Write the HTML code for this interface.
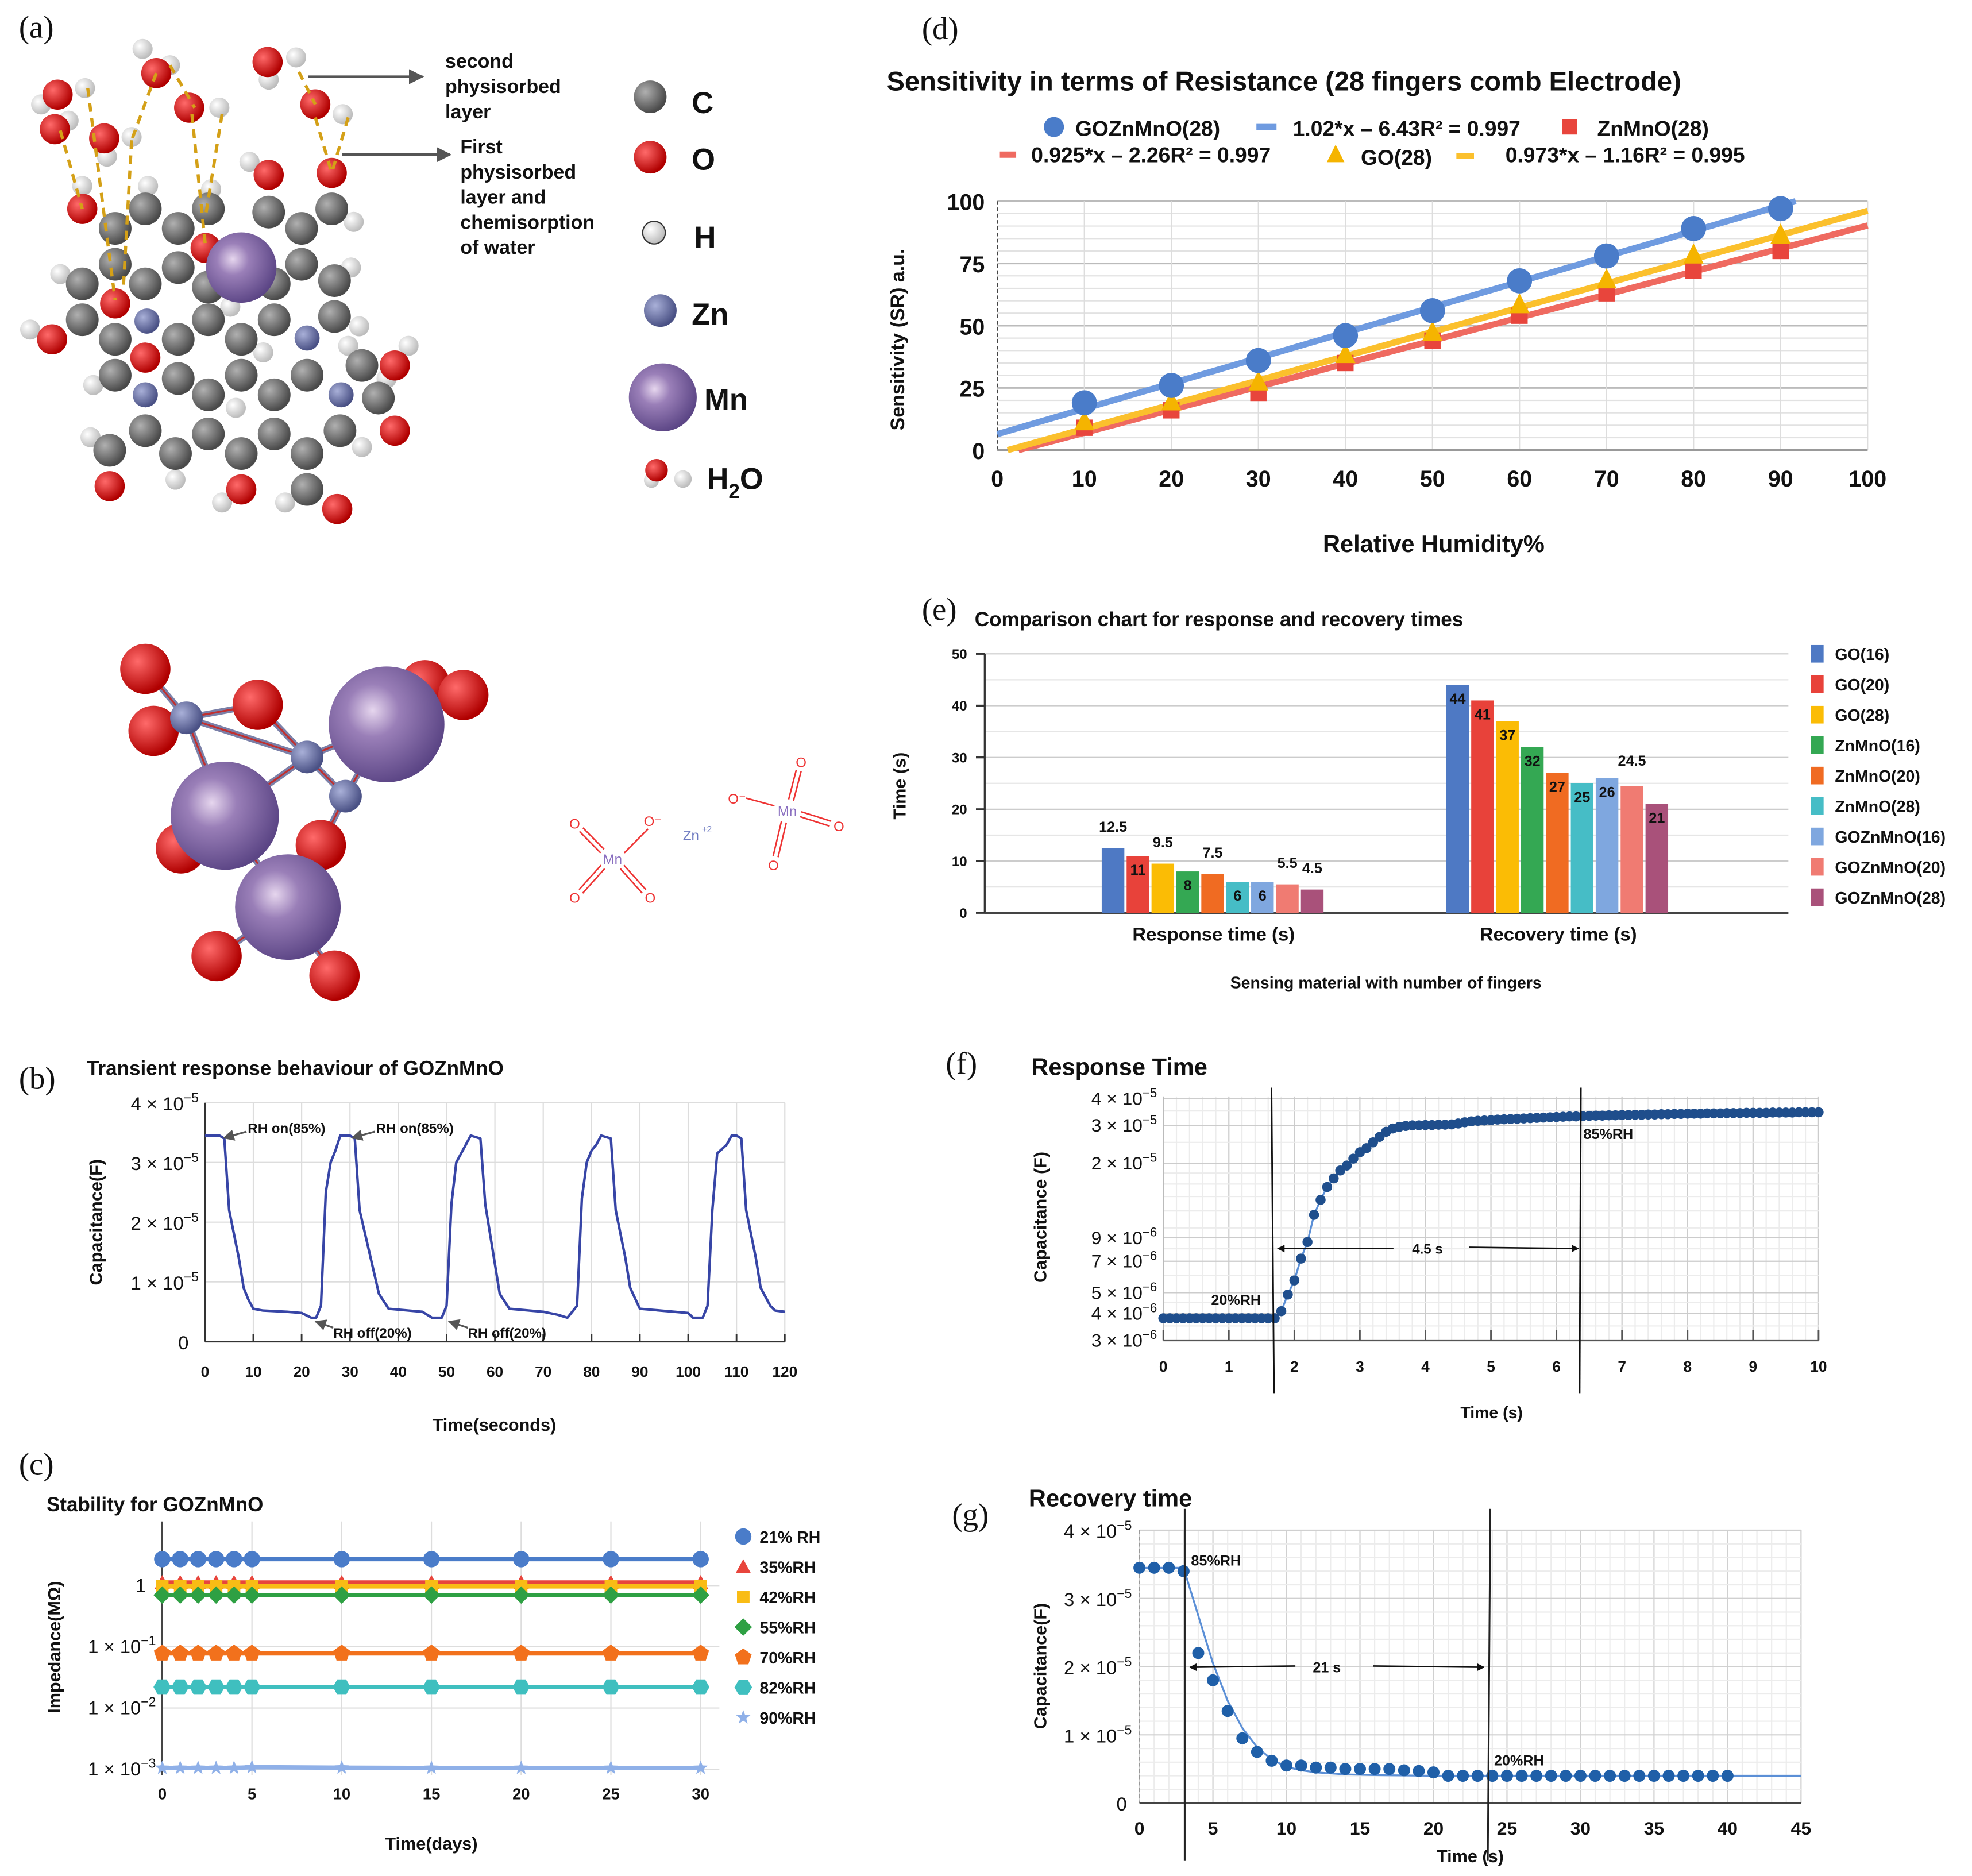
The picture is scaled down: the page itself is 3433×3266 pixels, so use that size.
<!DOCTYPE html>
<html><head><meta charset="utf-8"><style>
html,body{margin:0;padding:0;background:#fff}
svg{display:block}
text{font-family:"Liberation Sans",Arial,sans-serif}
.ser{font-family:"Liberation Serif",serif}
</style></head><body>
<svg id="fig" xmlns="http://www.w3.org/2000/svg" width="3433" height="3266" viewBox="0 0 1568 1492" preserveAspectRatio="none">
<defs>
<radialGradient id="gC" cx="35%" cy="35%" r="65%"><stop offset="0" stop-color="#b0b0b0"/><stop offset="1" stop-color="#4a4a4a"/></radialGradient>
<radialGradient id="gO" cx="35%" cy="35%" r="65%"><stop offset="0" stop-color="#ff6a6a"/><stop offset="1" stop-color="#b00000"/></radialGradient>
<radialGradient id="gH" cx="35%" cy="35%" r="65%"><stop offset="0" stop-color="#ffffff"/><stop offset="1" stop-color="#bdbdbd"/></radialGradient>
<radialGradient id="gZ" cx="35%" cy="35%" r="65%"><stop offset="0" stop-color="#a9b0d8"/><stop offset="1" stop-color="#4a5185"/></radialGradient>
<radialGradient id="gM" cx="38%" cy="38%" r="65%"><stop offset="0" stop-color="#e6d6ee"/><stop offset="0.35" stop-color="#9a7fb8"/><stop offset="1" stop-color="#5b4585"/></radialGradient>
<marker id="arr" viewBox="0 0 10 10" refX="9" refY="5" markerWidth="6" markerHeight="6" orient="auto"><path d="M0,0 L10,5 L0,10 z" fill="#555"/></marker>
<marker id="arrk" viewBox="0 0 10 10" refX="9" refY="5" markerWidth="5" markerHeight="5" orient="auto"><path d="M0,0 L10,5 L0,10 z" fill="#111"/></marker>
</defs>
<rect x="0" y="0" width="1568" height="1492" fill="#fff"/>
<g id="pa"></g>
<g id="pb"></g>
<g id="pc"></g>
<g id="pd"></g>
<g id="pe"></g>
<g id="pf"></g>
<g id="pg"></g>
</svg>
<script>
// ---------- chart data ----------
// (d)
const dX=[10,20,30,40,50,60,70,80,90];
const dGOZn=[19,26,36,46,56,68,78,89,97];
const dZn=[9,16,23,35,44,54,63,72,80];
const dGO=[11,19,27,38,47,58,68,78,86];
const dFitSlope=[1.02,0.925,0.973];
const dFitIntercept=[6.43,-2.26,-1.16];
const dXTicks=[0,10,20,30,40,50,60,70,80,90,100];
const dYTicks=[0,25,50,75,100];
// (e)
const eCats=['Response time (s)','Recovery time (s)'];
const eSeries=['GO(16)','GO(20)','GO(28)','ZnMnO(16)','ZnMnO(20)','ZnMnO(28)','GOZnMnO(16)','GOZnMnO(20)','GOZnMnO(28)'];
const eResponse=[12.5,11,9.5,8,7.5,6,6,5.5,4.5];
const eRecovery=[44,41,37,32,27,25,26,24.5,21];
const eRespLabelAbove=[1,0,1,0,1,0,0,1,1];
const eRecLabelAbove=[0,0,0,0,0,0,0,1,0];
const eYTicks=[0,10,20,30,40,50];
// (b)
const bT=[0,3,4,5,6,7,8,9,10,12,17,20,22,23,24,25,26,27,28,30,31,32,34,36,38,45,47,49,50,51,52,54,55,57,58,59,61,63,70,73,75,76,77,78,79,80,81,82,84,85,87,88,90,100,101,103,104,105,106,108,109,110,111,112,114,115,117,118,120];
const bC=[3.45,3.45,3.4,2.2,1.8,1.4,0.9,0.7,0.55,0.52,0.5,0.48,0.4,0.4,0.6,2.5,3.0,3.2,3.45,3.45,3.4,2.2,1.5,0.8,0.55,0.5,0.4,0.4,0.6,2.3,3.0,3.3,3.45,3.4,2.3,1.8,0.8,0.55,0.5,0.45,0.4,0.5,0.6,2.4,3.0,3.2,3.3,3.45,3.4,2.2,1.4,0.9,0.55,0.48,0.4,0.4,0.6,2.2,3.15,3.3,3.45,3.45,3.4,2.2,1.4,0.9,0.6,0.52,0.5];
const bXTicks=[0,10,20,30,40,50,60,70,80,90,100,110,120];
const bYTicks=[0,1,2,3,4];
// (c)
const cDays=[0,1,2,3,4,5,10,15,20,25,30];
const cLabels=['21% RH','35%RH','42%RH','55%RH','70%RH','82%RH','90%RH'];
const c21=[2.7,2.7,2.7,2.7,2.7,2.7,2.7,2.7,2.7,2.7,2.7];
const c35=[1.12,1.12,1.12,1.12,1.12,1.12,1.12,1.12,1.12,1.12,1.12];
const c42=[0.97,0.97,0.97,0.97,0.97,0.97,0.97,0.97,0.97,0.97,0.97];
const c55=[0.7,0.7,0.7,0.7,0.7,0.7,0.7,0.7,0.7,0.7,0.7];
const c70=[0.078,0.078,0.078,0.078,0.078,0.078,0.078,0.078,0.078,0.078,0.078];
const c82=[0.022,0.022,0.022,0.022,0.022,0.022,0.022,0.022,0.022,0.022,0.022];
const c90=[0.00105,0.00105,0.00105,0.00105,0.00105,0.00108,0.00106,0.00105,0.00105,0.00105,0.00105];
const cXTicks=[0,5,10,15,20,25,30];
// (f) capacitance in 1e-6 F
const fT=[0,0.1,0.2,0.3,0.4,0.5,0.6,0.7,0.8,0.9,1,1.1,1.2,1.3,1.4,1.5,1.6,1.7,1.8,1.9,2,2.1,2.2,2.3,2.4,2.5,2.6,2.7,2.8,2.9,3,3.1,3.2,3.3,3.4,3.5,3.6,3.7,3.8,3.9,4,4.1,4.2,4.3,4.4,4.5,4.6,4.7,4.8,4.9,5,5.1,5.2,5.3,5.4,5.5,5.6,5.7,5.8,5.9,6,6.1,6.2,6.3,6.4,6.5,6.6,6.7,6.8,6.9,7,7.1,7.2,7.3,7.4,7.5,7.6,7.7,7.8,7.9,8,8.1,8.2,8.3,8.4,8.5,8.6,8.7,8.8,8.9,9,9.1,9.2,9.3,9.4,9.5,9.6,9.7,9.8,9.9,10];
const fC=[3.8,3.8,3.8,3.8,3.8,3.8,3.8,3.8,3.8,3.8,3.8,3.8,3.8,3.8,3.8,3.8,3.8,3.8,4.1,4.9,5.7,7.2,8.6,11.5,13.5,15.5,17,18.5,19.5,21,22.5,23.5,25,26.5,28,29,29.5,29.8,30,30,30.1,30.1,30.2,30.2,30.3,30.6,31,31.3,31.5,31.6,31.7,31.9,32,32.1,32.2,32.3,32.4,32.5,32.6,32.7,32.8,32.9,33,33,33.1,33.2,33.3,33.3,33.4,33.4,33.5,33.5,33.6,33.6,33.7,33.7,33.8,33.8,33.9,33.9,34,34,34,34.1,34.1,34.1,34.2,34.2,34.2,34.3,34.3,34.3,34.3,34.4,34.4,34.4,34.4,34.5,34.5,34.5,34.5];
const fXTicks=[0,1,2,3,4,5,6,7,8,9,10];
const fYTickVals=[3,4,5,7,9,20,30,40];
const fYTickMant=['3','4','5','7','9','2','3','4'];
const fYTickExp=['6','6','6','6','6','5','5','5'];
// (g) capacitance in 1e-5 F
const gT=[0,1,2,3,4,5,6,7,8,9,10,11,12,13,14,15,16,17,18,19,20,21,22,23,24,25,26,27,28,29,30,31,32,33,34,35,36,37,38,39,40];
const gC=[3.45,3.45,3.45,3.4,2.2,1.8,1.35,0.95,0.75,0.62,0.55,0.55,0.52,0.52,0.5,0.5,0.5,0.5,0.48,0.47,0.45,0.4,0.4,0.4,0.4,0.4,0.4,0.4,0.4,0.4,0.4,0.4,0.4,0.4,0.4,0.4,0.4,0.4,0.4,0.4,0.4];
const gFitT=[0,3,4,5,6,7,8,9,10,11,12,14,16,20,25,45];
const gFit=[3.45,3.45,2.75,2.05,1.5,1.1,0.82,0.64,0.53,0.48,0.45,0.42,0.41,0.4,0.4,0.4];
const gXTicks=[0,5,10,15,20,25,30,35,40,45];
const gYTicks=[0,1,2,3,4];

// ---------- helpers ----------
const NS='http://www.w3.org/2000/svg';
function mk(parent,tag,attrs,name){
  const el=document.createElementNS(NS,tag);
  for(const k in attrs) el.setAttribute(k,attrs[k]);
  
  
  parent.appendChild(el);return el;
}
function txt(parent,x,y,s,size,name,o){
  o=o||{};
  const a={x:x,y:y,'font-size':size,fill:o.fill||'#111','font-weight':o.w||'bold','text-anchor':o.a||'start'};
  if(o.rot!==undefined) a.transform='rotate('+o.rot+' '+x+' '+y+')';
  if(o.cls) a['class']=o.cls;
  const t=mk(parent,'text',a,name);t.textContent=s;return t;
}
function sci(parent,x,y,m,e,size,name,w){
  const t=mk(parent,'text',{x:x,y:y,'font-size':size,fill:'#111','font-weight':w||'normal','text-anchor':'end'},name);
  const s1=document.createElementNS(NS,'tspan');s1.textContent=m+' × 10';t.appendChild(s1);
  const s2=document.createElementNS(NS,'tspan');s2.setAttribute('dy',-size*0.42);s2.setAttribute('font-size',size*0.7);s2.textContent='−'+e;t.appendChild(s2);
  return t;
}
function line(p,x1,y1,x2,y2,st,sw,name,extra){
  const a={x1:x1,y1:y1,x2:x2,y2:y2,stroke:st,'stroke-width':sw};
  if(extra) for(const k in extra) a[k]=extra[k];
  return mk(p,'line',a,name);
}
function poly(p,pts,st,sw,name){
  return mk(p,'polyline',{points:pts.map(q=>q[0].toFixed(2)+','+q[1].toFixed(2)).join(' '),fill:'none',stroke:st,'stroke-width':sw,'stroke-linejoin':'round'},name);
}

// ---------- panel letters ----------
const letters=[['(a)',15,30],['(b)',15,866],['(c)',15,1173],['(d)',733,31],['(e)',733,493],['(f)',752,854],['(g)',757,1213]];
letters.forEach(l=>{txt(document.getElementById('fig'),l[1],l[2],l[0],25,'panel-label',{w:'normal',cls:'ser'});});

// ---------- panel (a) ----------
(function(){
const P=document.getElementById('pa');
const kx=0.436, ky=0.519;
const C=[[210,350],[265,320],[325,350],[380,320],[490,325],[550,350],[605,320],[210,405],[325,410],[150,435],[265,435],[380,440],[500,435],[550,405],[610,430],[150,490],[210,520],[325,520],[380,490],[440,520],[500,490],[610,485],[210,575],[325,580],[380,605],[440,575],[500,605],[560,575],[660,560],[690,610],[265,660],[320,695],[380,665],[440,695],[500,665],[560,695],[620,660],[200,690],[560,750]];
const O=[[150,320],[210,465],[265,548],[375,380],[490,268],[605,265],[95,520],[720,560],[720,660],[200,745],[440,750],[615,780],[105,145],[100,198],[190,212],[285,112],[345,165],[488,95],[575,160]];
const H=[[75,160],[155,135],[125,185],[240,210],[195,240],[260,75],[310,100],[400,165],[540,88],[490,122],[625,175],[150,285],[270,285],[385,290],[455,248],[645,340],[110,420],[640,410],[55,505],[655,500],[745,530],[635,530],[480,540],[420,470],[170,590],[430,625],[165,670],[320,735],[405,770],[520,770],[660,685],[705,580]];
const Zn=[[268,492],[265,605],[560,518],[622,605]];
H.forEach(q=>{mk(P,'circle',{cx:q[0]*kx,cy:q[1]*ky,r:8,fill:'url(#gH)'},'hydrogen-atom');});
C.forEach(q=>{mk(P,'circle',{cx:q[0]*kx,cy:q[1]*ky,r:13,fill:'url(#gC)'},'carbon-atom');});
Zn.forEach(q=>{mk(P,'circle',{cx:q[0]*kx,cy:q[1]*ky,r:10,fill:'url(#gZ)'},'zinc-atom');});
O.forEach(q=>{mk(P,'circle',{cx:q[0]*kx,cy:q[1]*ky,r:12,fill:'url(#gO)'},'oxygen-atom');});
mk(P,'circle',{cx:440*kx,cy:410*ky,r:28,fill:'url(#gM)'},'manganese-atom');
const D=[[110,200,150,320],[160,135,210,460],[240,215,225,440],[285,112,240,215],[310,100,355,165],[350,175,375,380],[405,175,375,330],[545,110,575,160],[575,180,605,265],[635,180,605,265]];
D.forEach(q=>{line(P,q[0]*kx,q[1]*ky,q[2]*kx,q[3]*ky,'#d4a017',2.5,'hydrogen-bond',{'stroke-dasharray':'7,5'});});
line(P,245,61,336,61,'#555',2,'arrow-second-layer',{'marker-end':'url(#arr)'});
line(P,272,123,358,123,'#555',2,'arrow-first-layer',{'marker-end':'url(#arr)'});
[['second',354,54],['physisorbed',354,74],['layer',354,94]].forEach(t=>txt(P,t[1],t[2],t[0],15.5,'second-layer-label'));
[['First',366,122],['physisorbed',366,142],['layer and',366,162],['chemisorption',366,182],['of water',366,202]].forEach(t=>txt(P,t[1],t[2],t[0],15.5,'first-layer-label'));
// legend
mk(P,'circle',{cx:517,cy:77,r:13,fill:'url(#gC)'},'legend-carbon');txt(P,550,90,'C',24,'legend-carbon-label');
mk(P,'circle',{cx:517,cy:125,r:13,fill:'url(#gO)'},'legend-oxygen');txt(P,550,135,'O',24,'legend-oxygen-label');
mk(P,'circle',{cx:520,cy:185,r:9,fill:'url(#gH)',stroke:'#333','stroke-width':1},'legend-hydrogen');txt(P,552,197,'H',24,'legend-hydrogen-label');
mk(P,'circle',{cx:525,cy:247,r:13,fill:'url(#gZ)'},'legend-zinc');txt(P,550,258,'Zn',24,'legend-zinc-label');
mk(P,'circle',{cx:527,cy:316,r:27,fill:'url(#gM)'},'legend-manganese');txt(P,560,326,'Mn',24,'legend-manganese-label');
mk(P,'circle',{cx:518,cy:382,r:6,fill:'url(#gH)'},'legend-water-h');
mk(P,'circle',{cx:543,cy:381,r:7,fill:'url(#gH)'},'legend-water-h');
mk(P,'circle',{cx:522,cy:374,r:9,fill:'url(#gO)'},'legend-water-o');
const h2o=txt(P,562,389,'H',24,'legend-water-label');
const sb=document.createElementNS(NS,'tspan');sb.setAttribute('dy',7);sb.setAttribute('font-size',16);sb.textContent='2';h2o.appendChild(sb);
const sb2=document.createElementNS(NS,'tspan');sb2.setAttribute('dy',-7);sb2.textContent='O';h2o.appendChild(sb2);
// lower molecule
const R2=[[265,1025],[280,1120],[470,1080],[775,1050],[845,1065],[330,1300],[585,1295],[395,1465],[610,1495]].map(q=>[q[0]*kx,q[1]*ky]);
const Z2=[[340,1100],[560,1160],[630,1220]].map(q=>[q[0]*kx,q[1]*ky]);
const M2=[[705,1110,46],[410,1250,43],[525,1390,42]].map(q=>[q[0]*kx,q[1]*ky,q[2]]);
const B=[[Z2[0],R2[0]],[Z2[0],R2[1]],[Z2[0],R2[2]],[Z2[0],Z2[1]],[Z2[0],M2[1]],[Z2[1],R2[2]],[Z2[1],M2[0]],[Z2[1],Z2[2]],[Z2[1],M2[1]],[Z2[2],R2[6]],[Z2[2],M2[0]],[M2[1],M2[2]],[M2[2],R2[7]],[M2[2],R2[8]],[M2[1],R2[5]],[M2[0],R2[4]]];
B.forEach(b=>{line(P,b[0][0],b[0][1],b[1][0],b[1][1],'#7b80a8',5,'bond');line(P,b[0][0],b[0][1],b[1][0],b[1][1],'#c03030',1.5,'bond-core');});
R2.forEach(q=>{mk(P,'circle',{cx:q[0],cy:q[1],r:20,fill:'url(#gO)'},'oxygen-atom');});
Z2.forEach(q=>{mk(P,'circle',{cx:q[0],cy:q[1],r:13,fill:'url(#gZ)'},'zinc-atom');});
M2.forEach(q=>{mk(P,'circle',{cx:q[0],cy:q[1],r:q[2],fill:'url(#gM)'},'manganese-atom');});
// structural formula
function mnGroup(cx,cy,os,name){
  os.forEach(o=>{
    const dx=o[0]-cx,dy=o[1]-cy,L=Math.hypot(dx,dy),ux=dx/L,uy=dy/L,px=-uy*2,py=ux*2;
    const x1=cx+ux*11,y1=cy+uy*9,x2=o[0]-ux*7,y2=o[1]-uy*7;
    line(P,x1+px,y1+py,x2+px,y2+py,'#e33',1.2,'mn-o-bond');
    if(o[3]) line(P,x1-px,y1-py,x2-px,y2-py,'#e33',1.2,'mn-o-bond');
    txt(P,o[0],o[1]+4,o[2],11,'oxygen-label',{fill:'#e33',w:'normal',a:'middle'});
  });
  txt(P,cx,cy+4,'Mn',11,name,{fill:'#8a6fc0',w:'normal',a:'middle'});
}
mnGroup(487,683,[[457,655,'O',1],[519,653,'O⁻',0],[457,714,'O',1],[517,714,'O',1]],'mn-label');
mnGroup(626,645,[[637,606,'O',1],[667,657,'O',1],[615,688,'O',1],[586,635,'O⁻',0]],'mn-label');
txt(P,543,668,'Zn',11,'zinc-ion-label',{fill:'#6b78c0',w:'normal'});
txt(P,558,662,'+2',7,'zinc-ion-charge',{fill:'#6b78c0',w:'normal'});
})();

// ---------- panel (d) ----------
(function(){
const P=document.getElementById('pd');
const sx=x=>793+x*6.92, sy=y=>358-y*1.98;
txt(P,705,72,'Sensitivity in terms of Resistance (28 fingers comb Electrode)',21.5,'chart-title-d');
for(let v=0;v<=100;v+=5){line(P,sx(0),sy(v),sx(100),sy(v),v%25===0?'#bbb':'#e2e2e2',v%25===0?1.4:1,'gridline-h');}
dXTicks.forEach(v=>{if(v>0) line(P,sx(v),sy(0),sx(v),sy(100),'#ddd',1,'gridline-v');});
line(P,sx(0),sy(0),sx(0),sy(100),'#444',1,'y-axis',{'stroke-dasharray':'3,2'});
line(P,sx(0),sy(0),sx(100),sy(0),'#999',1.5,'x-axis');
dXTicks.forEach(v=>txt(P,sx(v),387,String(v),18,'x-tick-label',{a:'middle'}));
dYTicks.forEach(v=>txt(P,783,sy(v)+7,String(v),18,'y-tick-label',{a:'end'}));
txt(P,719,270,'Sensitivity (SR) a.u.',15.5,'y-axis-title',{rot:-90,a:'middle'});
txt(P,1140,439,'Relative Humidity%',19,'x-axis-title',{a:'middle'});
const fc=['#6f9be0','#ef6a60','#fbc02d'];
for(let i=0;i<3;i++){
  const m=dFitSlope[i],b=dFitIntercept[i];
  const x0=Math.max(0,-b/m),x1=Math.min(100,(100-b)/m);
  line(P,sx(x0),sy(m*x0+b),sx(x1),sy(m*x1+b),fc[i],5,'trendline');
}
dX.forEach((x,i)=>{
  const s1=mk(P,'rect',{x:sx(x)-6.5,y:sy(dZn[i])-6.5,width:13,height:13,fill:'#e8453c'},'point-znmno');
  const tx=sx(x),ty=sy(dGO[i]);
  mk(P,'polygon',{points:(tx)+','+(ty-10)+' '+(tx-8)+','+(ty+6)+' '+(tx+8)+','+(ty+6),fill:'#f5b400'},'point-go');
  mk(P,'circle',{cx:sx(x),cy:sy(dGOZn[i]),r:10,fill:'#4a7cc9'},'point-goznmno');
});
// legend
mk(P,'circle',{cx:838,cy:101,r:8,fill:'#4a7cc9'},'legend-goznmno-marker');txt(P,855,108,'GOZnMnO(28)',17,'legend-goznmno');
line(P,999,101,1015,101,'#6f9be0',5,'legend-goznmno-fit-marker');txt(P,1028,108,'1.02*x – 6.43R² = 0.997',17,'legend-goznmno-fit');
mk(P,'rect',{x:1242,y:95,width:12,height:12,fill:'#e8453c'},'legend-znmno-marker');txt(P,1270,108,'ZnMnO(28)',17,'legend-znmno');
line(P,795,123,808,123,'#ef6a60',5,'legend-znmno-fit-marker');txt(P,820,129,'0.925*x – 2.26R² = 0.997',17,'legend-znmno-fit');
mk(P,'polygon',{points:'1062,115 1055,129 1069,129',fill:'#f5b400'},'legend-go-marker');txt(P,1082,131,'GO(28)',17,'legend-go');
line(P,1158,124,1172,124,'#fbc02d',5,'legend-go-fit-marker');txt(P,1197,129,'0.973*x – 1.16R² = 0.995',17,'legend-go-fit');
})();

// ---------- panel (e) ----------
(function(){
const P=document.getElementById('pe');
const sy=v=>726-v*4.12;
txt(P,775,498,'Comparison chart for response and recovery times',16,'chart-title-e');
for(let v=0;v<=50;v+=5){line(P,783,sy(v),1422,sy(v),v%10===0?'#ccc':'#e6e6e6',1,'gridline-h');}
line(P,783,sy(0),783,sy(50),'#333',1.5,'y-axis');
line(P,783,sy(0),1422,sy(0),'#444',2,'x-axis');
eYTicks.forEach(v=>{txt(P,769,sy(v)+4,String(v),11,'y-tick-label',{a:'end'});line(P,776,sy(v),783,sy(v),'#333',1.5,'y-tick');});
txt(P,720,625,'Time (s)',14,'y-axis-title',{rot:-90,a:'middle'});
const cols=['#4e79c4','#e8423a','#fbbc05','#34a853','#f06b22','#46bdc6','#7fa7df','#f07b72','#a9517a'];
const starts=[876,1150];
[eResponse,eRecovery].forEach((vals,g)=>{
  const above=g===0?eRespLabelAbove:eRecLabelAbove;
  vals.forEach((v,i)=>{
    const x=starts[g]+i*19.8;
    mk(P,'rect',{x:x,y:sy(v),width:18,height:sy(0)-sy(v),fill:cols[i]},'bar-'+eSeries[i]);
    const lab=String(v);
    if(above[i]) txt(P,x+9,g===1?sy(v)-16:sy(v)-13,lab,11.5,'bar-value-label',{a:'middle'});
    else txt(P,x+9,sy(v)+15,lab,11.5,'bar-value-label',{a:'middle'});
  });
});
txt(P,965,748,eCats[0],15,'category-label',{a:'middle'});
txt(P,1239,748,eCats[1],15,'category-label',{a:'middle'});
txt(P,1102,786,'Sensing material with number of fingers',13,'x-axis-title',{a:'middle'});
eSeries.forEach((s,i)=>{
  const y=520+i*24.2;
  mk(P,'rect',{x:1440,y:y-7,width:10,height:14,fill:cols[i]},'legend-swatch');
  txt(P,1459,y+5,s,13,'legend-entry');
});
})();

// ---------- panel (b) ----------
(function(){
const P=document.getElementById('pb');
const sx=t=>163+t*3.842, sy=v=>1067-v*47.5;
txt(P,69,855,'Transient response behaviour of GOZnMnO',16,'chart-title-b');
bXTicks.forEach(v=>{if(v>0) line(P,sx(v),sy(4),sx(v),sy(0),'#ddd',1,'gridline-v');});
bYTicks.forEach(v=>{if(v>0) line(P,sx(0),sy(v),sx(120),sy(v),'#ddd',1,'gridline-h');});
line(P,sx(0),sy(0),sx(0),sy(4),'#333',1.3,'y-axis');
line(P,sx(0),sy(0),sx(120),sy(0),'#333',1.3,'x-axis');
bXTicks.forEach(v=>{line(P,sx(v),sy(0),sx(v),sy(0)-6,'#333',1.3,'x-tick');txt(P,sx(v),1095,String(v),12,'x-tick-label',{a:'middle'});});
bYTicks.forEach(v=>{if(v===0) txt(P,150,sy(0)+6,'0',15,'y-tick-label',{a:'end',w:'normal'});else sci(P,158,sy(v)+6,String(v),'5',15,'y-tick-label');});
txt(P,81,972,'Capacitance(F)',14,'y-axis-title',{rot:-90,a:'middle'});
txt(P,393,1138,'Time(seconds)',14,'x-axis-title',{a:'middle'});
poly(P,bT.map((t,i)=>[sx(t),sy(bC[i])]),'#3745a6',2,'capacitance-line');
line(P,196,900,178,905,'#555',1.5,'annotation-arrow',{'marker-end':'url(#arr)'});
txt(P,197,901,'RH on(85%)',11,'annotation-rh-on');
line(P,298,900,280,905,'#555',1.5,'annotation-arrow',{'marker-end':'url(#arr)'});
txt(P,299,901,'RH on(85%)',11,'annotation-rh-on');
line(P,265,1056,251,1051,'#555',1.5,'annotation-arrow',{'marker-end':'url(#arr)'});
txt(P,265,1064,'RH off(20%)',11,'annotation-rh-off');
line(P,372,1056,357,1051,'#555',1.5,'annotation-arrow',{'marker-end':'url(#arr)'});
txt(P,372,1064,'RH off(20%)',11,'annotation-rh-off');
})();

// ---------- panel (c) ----------
(function(){
const P=document.getElementById('pc');
const sx=d=>129+d*14.27, sy=v=>1261-Math.log10(v)*48.7;
txt(P,37,1202,'Stability for GOZnMnO',16,'chart-title-c');
cXTicks.forEach(v=>{if(v>0) line(P,sx(v),1210,sx(v),1412,'#ddd',1,'gridline-v');});
[1,0.1,0.01,0.001].forEach(v=>line(P,sx(0),sy(v),572,sy(v),'#ddd',1,'gridline-h'));
line(P,sx(0),1210,sx(0),1412,'#444',1.3,'y-axis');
cXTicks.forEach(v=>txt(P,sx(v),1431,String(v),12.5,'x-tick-label',{a:'middle'}));
txt(P,116,1266,'1',15,'y-tick-label',{a:'end',w:'normal'});
sci(P,124,sy(0.1)+5,'1','1',15,'y-tick-label');
sci(P,124,sy(0.01)+5,'1','2',15,'y-tick-label');
sci(P,124,sy(0.001)+5,'1','3',15,'y-tick-label');
txt(P,48,1310,'Impedance(MΩ)',14,'y-axis-title',{rot:-90,a:'middle'});
txt(P,343,1471,'Time(days)',14,'x-axis-title',{a:'middle'});
const S=[c21,c35,c42,c55,c70,c82,c90];
const cols=['#4a7cc9','#e8453c','#f9bc15','#2ea043','#f2711c','#3fbfbf','#8fb0e8'];
function marker(i,x,y,name){
  if(i===0) return mk(P,'circle',{cx:x,cy:y,r:6.5,fill:cols[i]},name);
  if(i===1) return mk(P,'polygon',{points:x+','+(y-6)+' '+(x-6)+','+(y+5)+' '+(x+6)+','+(y+5),fill:cols[i]},name);
  if(i===2) return mk(P,'rect',{x:x-5,y:y-5,width:10,height:10,fill:cols[i]},name);
  if(i===3) return mk(P,'polygon',{points:x+','+(y-7)+' '+(x+7)+','+y+' '+x+','+(y+7)+' '+(x-7)+','+y,fill:cols[i]},name);
  if(i===4){let p=[];for(let k=0;k<5;k++){const a=-Math.PI/2+k*2*Math.PI/5;p.push((x+7*Math.cos(a))+','+(y+7*Math.sin(a)));}return mk(P,'polygon',{points:p.join(' '),fill:cols[i]},name);}
  if(i===5){let p=[];for(let k=0;k<6;k++){const a=k*Math.PI/3;p.push((x+7*Math.cos(a))+','+(y+7*Math.sin(a)));}return mk(P,'polygon',{points:p.join(' '),fill:cols[i]},name);}
  let p=[];for(let k=0;k<10;k++){const a=-Math.PI/2+k*Math.PI/5,r=k%2?2.5:6;p.push((x+r*Math.cos(a))+','+(y+r*Math.sin(a)));}return mk(P,'polygon',{points:p.join(' '),fill:cols[i]},name);
}
S.forEach((arr,i)=>{
  poly(P,cDays.map((d,j)=>[sx(d),sy(arr[j])]),cols[i],3.5,'series-line-'+cLabels[i]);
  cDays.forEach((d,j)=>marker(i,sx(d),sy(arr[j]),'series-point'));
});
cLabels.forEach((l,i)=>{const y=1222+i*24;marker(i,591,y,'legend-marker');txt(P,604,y+5,l,13,'legend-entry');});
})();

// ---------- panel (f) ----------
(function(){
const P=document.getElementById('pf');
const sx=t=>925+t*52.1, sy=v=>1066-Math.log10(v/3)*171;
txt(P,820,855,'Response Time',19,'chart-title-f');
for(let t=0;t<=10.001;t+=0.2) line(P,sx(t),872,sx(t),1066,Math.abs(t-Math.round(t))<0.01?'#ccc':'#ececec',1,'gridline-v');
[3,3.5,4,4.5,5,6,7,8,9,10,12,14,16,18,20,25,30,35,40].forEach(v=>line(P,925,sy(v),1446,sy(v),fYTickVals.indexOf(v)>=0?'#ccc':'#ececec',1,'gridline-h'));
line(P,925,872,925,1066,'#bbb',1,'y-axis');
line(P,925,1066,1446,1066,'#555',1.5,'x-axis');
fXTicks.forEach(v=>{line(P,sx(v),1066,sx(v),1058,'#555',1.3,'x-tick');txt(P,sx(v),1091,String(v),12,'x-tick-label',{a:'middle'});});
fYTickVals.forEach((v,i)=>sci(P,920,sy(v)+5,fYTickMant[i],fYTickExp[i],14.5,'y-tick-label'));
txt(P,832,968,'Capacitance (F)',14,'y-axis-title',{rot:-90,a:'middle'});
txt(P,1186,1128,'Time (s)',13,'x-axis-title',{a:'middle'});
poly(P,fT.map((t,i)=>[sx(t),sy(fC[i])]),'#5b8fd6',1.5,'response-fit-line');
fT.forEach((t,i)=>mk(P,'circle',{cx:sx(t),cy:sy(fC[i]),r:4,fill:'#1f4e8c'},'response-point'));
line(P,1011,865,1013,1108,'#111',1.3,'response-start-line');
line(P,1257,865,1256,1108,'#111',1.3,'response-end-line');
line(P,1108,993,1016,993,'#111',1.2,'span-arrow-left',{'marker-end':'url(#arrk)'});
line(P,1168,992,1255,993,'#111',1.2,'span-arrow-right',{'marker-end':'url(#arrk)'});
txt(P,1135,997,'4.5 s',11,'span-label',{a:'middle'});
txt(P,963,1038,'20%RH',11.5,'start-rh-label');
txt(P,1259,906,'85%RH',11.5,'end-rh-label');
})();

// ---------- panel (g) ----------
(function(){
const P=document.getElementById('pg');
const sx=t=>906+t*11.69, sy=v=>1434-v*54.25;
txt(P,818,1198,'Recovery time',19,'chart-title-g');
for(let t=0;t<=45.01;t+=1) line(P,sx(t),1217,sx(t),1434,t%5===0?'#d0d0d0':'#ececec',1,'gridline-v');
for(let v=0;v<=4.001;v+=0.2) line(P,906,sy(v),1432,sy(v),Math.abs(v-Math.round(v))<0.01?'#d0d0d0':'#ececec',1,'gridline-h');
line(P,906,1217,906,1434,'#999',1,'y-axis',{'stroke-dasharray':'3,2'});
line(P,906,1434,1432,1434,'#444',1.3,'x-axis');
gXTicks.forEach(v=>txt(P,sx(v),1459,String(v),14.5,'x-tick-label',{a:'middle'}));
gYTicks.forEach(v=>{if(v===0) txt(P,896,sy(0)+6,'0',15,'y-tick-label',{a:'end',w:'normal'});else sci(P,900,sy(v)+6,String(v),'5',15,'y-tick-label');});
txt(P,832,1325,'Capacitance(F)',14,'y-axis-title',{rot:-90,a:'middle'});
txt(P,1169,1481,'Time (s)',14,'x-axis-title',{a:'middle'});
poly(P,gFitT.map((t,i)=>[sx(t),sy(gFit[i])]),'#5b8fd6',1.5,'recovery-fit-line');
gT.forEach((t,i)=>mk(P,'circle',{cx:sx(t),cy:sy(gC[i]),r:4.8,fill:'#1f5fa8'},'recovery-point'));
line(P,942,1200,942,1480,'#222',1.4,'recovery-start-line');
line(P,1185,1200,1183,1480,'#222',1.4,'recovery-end-line');
line(P,1030,1325,946,1326,'#111',1.2,'span-arrow-left',{'marker-end':'url(#arrk)'});
line(P,1092,1325,1180,1326,'#111',1.2,'span-arrow-right',{'marker-end':'url(#arrk)'});
txt(P,1055,1330,'21 s',11.5,'span-label',{a:'middle'});
txt(P,947,1245,'85%RH',11.5,'start-rh-label');
txt(P,1188,1404,'20%RH',11.5,'end-rh-label');
})();
</script>
</body></html>
